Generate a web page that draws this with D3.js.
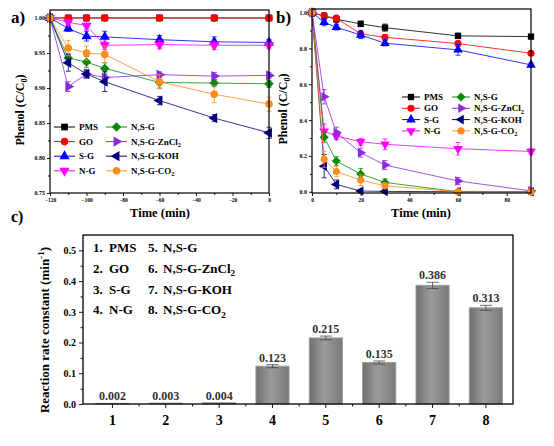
<!DOCTYPE html>
<html>
<head>
<meta charset="utf-8">
<script src="https://cdn.jsdelivr.net/npm/d3@7"></script>
<style>
  body { margin: 0; background: #fff; }
  svg { font-family: "Liberation Serif", "Times New Roman", serif; font-weight: bold; }
</style>
</head>
<body>
<div id="chart"></div>
<script>
// ---- data ----
const seriesNames = ["PMS", "GO", "S-G", "N-G", "N,S-G", "N,S-G-ZnCl_2", "N,S-G-KOH", "N,S-G-CO_2"];
const seriesColors = ["#000000", "#ff0000", "#0000ff", "#ff00ff", "#0a8a0a", "#8a2be2", "#00007f", "#ff8c1a"];
const seriesShapes = ["square", "circle", "triUp", "triDown", "diamond", "triRight", "triLeft", "circle"];

// a) adsorption
const timeA = [-120, -110, -100, -90, -60, -30, 0];
const pmsA = [1, 1, 1, 1, 1, 1, 1];
const goA = [1, 1, 1, 1, 1, 1, 1];
const sgA = [1, 0.985, 0.974, 0.973, 0.969, 0.966, 0.965];
const ngA = [1, 0.994, 0.989, 0.961, 0.962, 0.961, 0.961];
const nsgA = [1, 0.943, 0.937, 0.928, 0.908, 0.907, 0.906];
const znA = [1, 0.902, 0.920, 0.915, 0.919, 0.917, 0.918];
const kohA = [1, 0.936, 0.920, 0.909, 0.882, 0.857, 0.836];
const co2A = [1, 0.957, 0.950, 0.948, 0.909, 0.891, 0.877];
const pmsAErr = [0, 0, 0, 0, 0, 0, 0];
const goAErr = [0, 0, 0, 0, 0, 0, 0];
const sgAErr = [0, 0.004, 0.007, 0.008, 0.006, 0.007, 0.004];
const ngAErr = [0, 0.004, 0.006, 0.006, 0.006, 0.006, 0.005];
const nsgAErr = [0, 0.006, 0.008, 0.008, 0.008, 0.005, 0.005];
const znAErr = [0, 0.007, 0.005, 0.004, 0.004, 0.005, 0.004];
const kohAErr = [0, 0.012, 0.006, 0.014, 0.006, 0.005, 0.008];
const co2AErr = [0, 0.011, 0.010, 0.012, 0.010, 0.012, 0.010];

// b) degradation
const timeB = [0, 5, 10, 20, 30, 60, 90];
const pmsB = [1, 0.98, 0.963, 0.937, 0.916, 0.870, 0.866];
const goB = [1, 0.981, 0.969, 0.881, 0.862, 0.827, 0.773];
const sgB = [1, 0.946, 0.918, 0.875, 0.829, 0.792, 0.708];
const ngB = [1, 0.338, 0.311, 0.279, 0.265, 0.240, 0.225];
const nsgB = [1, 0.304, 0.171, 0.099, 0.052, 0.0, 0.0];
const znB = [1, 0.530, 0.330, 0.218, 0.149, 0.060, 0.005];
const kohB = [1, 0.143, 0.041, 0.004, 0.002, 0.0, 0.0];
const co2B = [1, 0.181, 0.113, 0.065, 0.033, 0.0, 0.0];
const pmsBErr = [0, 0.02, 0.02, 0.015, 0.02, 0.015, 0.01];
const goBErr = [0, 0.015, 0.015, 0.02, 0.015, 0.015, 0.01];
const sgBErr = [0, 0.02, 0.015, 0.02, 0.015, 0.03, 0.01];
const ngBErr = [0, 0.04, 0.02, 0.02, 0.03, 0.035, 0.015];
const nsgBErr = [0, 0.03, 0.025, 0.03, 0.02, 0.005, 0.005];
const znBErr = [0, 0.04, 0.03, 0.025, 0.025, 0.02, 0.005];
const kohBErr = [0, 0.065, 0.025, 0.01, 0.01, 0.005, 0.005];
const co2BErr = [0, 0.045, 0.03, 0.03, 0.015, 0.005, 0.005];

// c) rate constants
const rateLabels = ["1", "2", "3", "4", "5", "6", "7", "8"];
const rateValues = [0.002, 0.003, 0.004, 0.123, 0.215, 0.135, 0.386, 0.313];
const rateErr = [0.0005, 0.0005, 0.0005, 0.005, 0.006, 0.005, 0.01, 0.008];

// axis ticks
const ticksXA = [-120, -100, -80, -60, -40, -20, 0];
const ticksYA = [0.75, 0.80, 0.85, 0.90, 0.95, 1.00];
const ticksXB = [0, 20, 40, 60, 80];
const ticksYB = [0.0, 0.2, 0.4, 0.6, 0.8, 1.0];
const ticksYC = [0.0, 0.1, 0.2, 0.3, 0.4, 0.5];

const valsA = [pmsA, goA, sgA, ngA, nsgA, znA, kohA, co2A];
const errsA = [pmsAErr, goAErr, sgAErr, ngAErr, nsgAErr, znAErr, kohAErr, co2AErr];
const valsB = [pmsB, goB, sgB, ngB, nsgB, znB, kohB, co2B];
const errsB = [pmsBErr, goBErr, sgBErr, ngBErr, nsgBErr, znBErr, kohBErr, co2BErr];

const svg = d3.select("#chart").append("svg")
  .attr("width", 554)
  .attr("height", 446);

// write a label, "_x" becomes a subscript
function addLabel(t, name, fs) {
  const parts = name.split("_");
  t.append("tspan").text(parts[0]);
  if (parts[1]) {
    t.append("tspan")
      .attr("font-size", fs * 0.7)
      .attr("dy", fs * 0.25)
      .text(parts[1]);
  }
}

function marker(g, shape, cx, cy, size, color) {
  const map = {
    square: [d3.symbolSquare, 0], circle: [d3.symbolCircle, 0],
    triUp: [d3.symbolTriangle, 0], triDown: [d3.symbolTriangle, 180],
    diamond: [d3.symbolSquare, 45], triRight: [d3.symbolTriangle, 90],
    triLeft: [d3.symbolTriangle, -90]
  };
  const m = map[shape];
  g.append("path")
    .attr("d", d3.symbol().type(m[0]).size(size)())
    .attr("transform", `translate(${cx},${cy}) rotate(${m[1]})`)
    .attr("fill", color);
}

function styleAxis(ax, fs) {
  ax.selectAll("path.domain").remove();
  ax.selectAll("line").attr("stroke", "#000").attr("stroke-width", 0.9);
  ax.selectAll("text").attr("font-size", fs).attr("fill", "#000")
    .attr("font-family", "Liberation Serif").attr("font-weight", "bold");
}

function drawLinePanel(x, y, ticksX, minorX, ticksY, minorY, yFmt, times, vals, errs, msize, leg) {
  const g = svg.append("g");
  const [x0, x1] = x.range();
  const [y0, y1] = y.range();

  const bx = g.append("g").attr("transform", `translate(0,${y0})`)
    .call(d3.axisBottom(x).tickValues(ticksX).tickSize(3).tickPadding(2).tickFormat(d3.format("d")));
  styleAxis(bx, 5.5);
  const bxm = g.append("g").attr("transform", `translate(0,${y0})`)
    .call(d3.axisBottom(x).tickValues(minorX).tickSize(2).tickFormat(""));
  styleAxis(bxm, 5);
  const ly = g.append("g").attr("transform", `translate(${x0},0)`)
    .call(d3.axisLeft(y).tickValues(ticksY).tickSize(3).tickPadding(2).tickFormat(d3.format(yFmt)));
  styleAxis(ly, 6);
  const lym = g.append("g").attr("transform", `translate(${x0},0)`)
    .call(d3.axisLeft(y).tickValues(minorY).tickSize(2).tickFormat(""));
  styleAxis(lym, 5);

  const line = d3.line().x((d, i) => x(times[i])).y(d => y(d));
  vals.forEach((v, s) => {
    const c = seriesColors[s];
    const sg = g.append("g");
    sg.append("path").attr("d", line(v)).attr("fill", "none")
      .attr("stroke", c).attr("stroke-width", 0.8);
    v.forEach((d, i) => {
      const e = errs[s][i];
      if (e > 0) {
        const px = x(times[i]);
        sg.append("line").attr("x1", px).attr("x2", px)
          .attr("y1", y(d - e)).attr("y2", y(d + e)).attr("stroke", c).attr("stroke-width", 0.8);
        [d - e, d + e].forEach(q => sg.append("line")
          .attr("x1", px - 2.5).attr("x2", px + 2.5)
          .attr("y1", y(q)).attr("y2", y(q)).attr("stroke", c).attr("stroke-width", 0.8));
      }
      marker(sg, seriesShapes[s], x(times[i]), y(d), msize, c);
    });
  });

  // frame
  g.append("rect").attr("x", x0).attr("y", y1)
    .attr("width", x1 - x0).attr("height", y0 - y1)
    .attr("fill", "none").attr("stroke", "#000").attr("stroke-width", 1.2);

  // legend
  seriesNames.forEach((n, s) => {
    const col = s < 4 ? 0 : 1;
    const row = s % 4;
    const ly0 = leg.y + row * leg.dy;
    const lx = leg.cols[col];
    g.append("line").attr("x1", lx).attr("x2", lx + leg.len)
      .attr("y1", ly0).attr("y2", ly0).attr("stroke", seriesColors[s]).attr("stroke-width", 1);
    marker(g, seriesShapes[s], lx + leg.len / 2, ly0, msize, seriesColors[s]);
    const t = g.append("text").attr("x", lx + leg.len + 4).attr("y", ly0 + 3)
      .attr("font-size", 9);
    addLabel(t, n, 9);
  });
  return g;
}

// ---- panel a ----
const xA = d3.scaleLinear().domain([-120, 0]).range([50, 269]);
const yA = d3.scaleLinear().domain([0.75, 1.0114]).range([193, 10]);
drawLinePanel(xA, yA, ticksXA, [-110, -90, -70, -50, -30, -10],
  ticksYA, [0.775, 0.825, 0.875, 0.925, 0.975], ".2f", timeA, valsA, errsA, 45,
  { y: 127, dy: 14.6, cols: [54, 106], len: 21 });

// ---- panel b ----
const xB = d3.scaleLinear().domain([0, 90]).range([312, 531]);
const yB = d3.scaleLinear().domain([-0.007, 1.02]).range([193, 9]);
drawLinePanel(xB, yB, ticksXB, [10, 30, 50, 70, 90],
  ticksYB, [0.1, 0.3, 0.5, 0.7, 0.9], ".1f", timeB, valsB, errsB, 40,
  { y: 97, dy: 11.3, cols: [402, 452], len: 18 });

// axis titles and panel letters
function yTitle(cx, cy, fs, main, sub, tail, sup) {
  const t = svg.append("text")
    .attr("transform", `translate(${cx},${cy}) rotate(-90)`)
    .attr("text-anchor", "middle").attr("font-size", fs);
  t.append("tspan").text(main);
  if (sub) t.append("tspan").attr("font-size", fs * 0.7).attr("dy", fs * 0.25).text(sub);
  if (sup) t.append("tspan").attr("font-size", fs * 0.7).attr("dy", -fs * 0.4).text(sup);
  if (tail) t.append("tspan").attr("dy", sub ? -fs * 0.25 : fs * 0.4).text(tail);
}
yTitle(24, 110, 12, "Phenol (C/C", "0", ")");
yTitle(287, 109, 12, "Phenol (C/C", "0", ")");
svg.append("text").attr("x", 160).attr("y", 217).attr("text-anchor", "middle")
  .attr("font-size", 12.5).text("Time (min)");
svg.append("text").attr("x", 421).attr("y", 217).attr("text-anchor", "middle")
  .attr("font-size", 12.5).text("Time (min)");
svg.append("text").attr("x", 11).attr("y", 23).attr("font-size", 17).text("a)");
svg.append("text").attr("x", 276).attr("y", 23).attr("font-size", 17).text("b)");
svg.append("text").attr("x", 11).attr("y", 222).attr("font-size", 16).text("c)");

// ---- panel c ----
const xC = d3.scaleBand().domain(rateLabels).range([83, 513]).paddingInner(0.38).paddingOuter(0.22).align(0.55);
const yC = d3.scaleLinear().domain([0, 0.55]).range([404, 235]);
const gc = svg.append("g");

const grad = svg.append("defs").append("linearGradient").attr("id", "barGrad")
  .attr("x1", "0%").attr("x2", "100%").attr("y1", "0%").attr("y2", "0%");
grad.append("stop").attr("offset", "0%").attr("stop-color", "#6f6f6f");
grad.append("stop").attr("offset", "45%").attr("stop-color", "#9b9b9b");
grad.append("stop").attr("offset", "100%").attr("stop-color", "#7a7a7a");

gc.selectAll("rect.bar").data(rateValues).join("rect")
  .attr("class", "bar")
  .attr("x", (d, i) => xC(rateLabels[i]))
  .attr("width", xC.bandwidth())
  .attr("y", d => yC(d))
  .attr("height", d => yC(0) - yC(d))
  .attr("fill", "url(#barGrad)")
  .attr("stroke", "#999").attr("stroke-width", 1);

rateValues.forEach((d, i) => {
  const cx = xC(rateLabels[i]) + xC.bandwidth() / 2;
  const e = rateErr[i];
  if (i >= 3) {
    gc.append("line").attr("x1", cx).attr("x2", cx)
      .attr("y1", yC(d - e)).attr("y2", yC(d + e)).attr("stroke", "#444").attr("stroke-width", 0.8);
    [d - e, d + e].forEach(q => gc.append("line")
      .attr("x1", cx - 6).attr("x2", cx + 6).attr("y1", yC(q)).attr("y2", yC(q))
      .attr("stroke", "#444").attr("stroke-width", 0.8));
  }
  gc.append("text").attr("x", cx).attr("y", yC(d + e) - 3)
    .attr("text-anchor", "middle").attr("font-size", 12)
    .attr("fill", "#333").text(d3.format(".3f")(d));
});

const cxAx = gc.append("g").attr("transform", "translate(0,404)")
  .call(d3.axisBottom(xC).tickSize(4).tickPadding(7));
styleAxis(cxAx, 14);
const boundaries = rateLabels.slice(1).map(l => xC(l) - xC.step() * xC.paddingInner() / 2);
boundaries.forEach(b => gc.append("line").attr("x1", b).attr("x2", b)
  .attr("y1", 404).attr("y2", 406.5).attr("stroke", "#000").attr("stroke-width", 0.9));

const cyAx = gc.append("g").attr("transform", "translate(83,0)")
  .call(d3.axisLeft(yC).tickValues(ticksYC).tickSize(4).tickPadding(3).tickFormat(d3.format(".1f")));
styleAxis(cyAx, 10);
const cyMinor = gc.append("g").attr("transform", "translate(83,0)")
  .call(d3.axisLeft(yC).tickValues([0.05, 0.15, 0.25, 0.35, 0.45]).tickSize(2.5).tickFormat(""));
styleAxis(cyMinor, 5);

gc.append("rect").attr("x", 83).attr("y", 235).attr("width", 430).attr("height", 169)
  .attr("fill", "none").attr("stroke", "#000").attr("stroke-width", 1.3);

yTitle(49, 330, 13, "Reaction rate constant (min", null, ")", "-1");

// legend of panel c
seriesNames.forEach((n, s) => {
  const col = s < 4 ? 0 : 1;
  const row = s % 4;
  const yy = 252 + row * 20.8;
  const nx = col === 0 ? 93 : 148;
  gc.append("text").attr("x", nx).attr("y", yy).attr("font-size", 13).text(`${s + 1}.`);
  const t = gc.append("text").attr("x", nx + (col === 0 ? 16 : 15)).attr("y", yy).attr("font-size", 13);
  addLabel(t, n, 13);
});
</script>
</body>
</html>
